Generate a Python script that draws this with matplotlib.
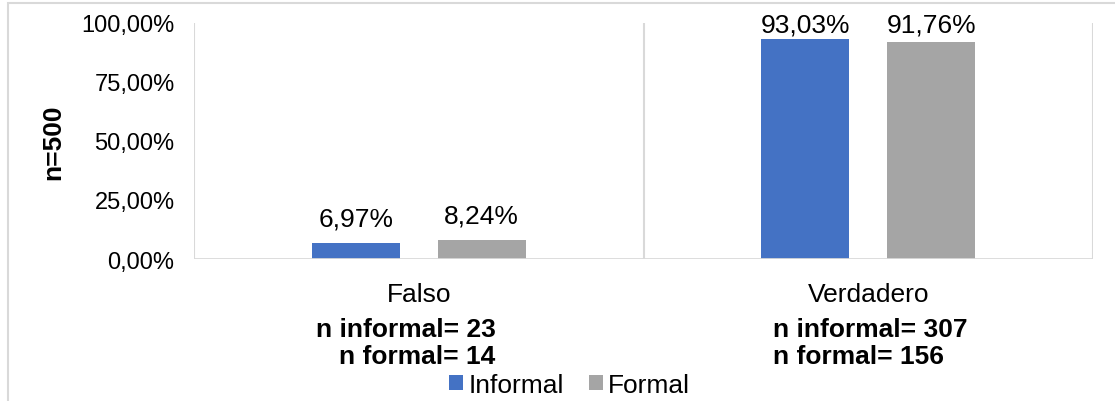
import matplotlib
matplotlib.use("Agg")
import matplotlib.pyplot as plt
import matplotlib.transforms as mtransforms
from matplotlib.patches import Rectangle
import numpy as np

plt.rcParams["font.family"] = ["Liberation Sans", "DejaVu Sans"]

# ── Data ────────────────────────────────────────────────────────────────
categories = ["Falso", "Verdadero"]
series_names = ["Informal", "Formal"]
informal = [6.97, 93.03]
formal = [8.24, 91.76]
n_informal = [23, 307]
n_formal = [14, 156]
yticks = [0, 25, 50, 75, 100]

BLUE = "#4472C4"
GREY = "#A5A5A5"
LINE = "#D9D9D9"

W, H = 1115, 402
fig = plt.figure(figsize=(W / 100, H / 100), dpi=100)
fig.patch.set_facecolor("white")

# chart frame (extends past the right / bottom edges)
fig.add_artist(Rectangle((8 / W, -0.1), 1.2, 1 - 4 / H + 0.1,
                         transform=fig.transFigure, fill=False,
                         edgecolor=LINE, linewidth=1.5))

ax = fig.add_axes([194 / W, 1 - 260 / H, 899 / W, 236 / H])
x = np.arange(len(categories))
bw, off = 0.196, 0.14
ax.bar(x - off, informal, bw, color=BLUE, label=series_names[0])
ax.bar(x + off, formal, bw, color=GREY, label=series_names[1])

ax.set_xlim(-0.5, len(categories) - 0.5)
ax.set_ylim(0, 100)

# category separators as vertical gridlines
for b in np.arange(-0.5, len(categories), 1.0):
    ax.axvline(b, color=LINE, linewidth=1.5, zorder=0)
for sp in ax.spines.values():
    sp.set_visible(False)
ax.axhline(0, color=LINE, linewidth=2, zorder=3)

ax.set_yticks(yticks)
ax.set_yticklabels([f"{v:.2f}%".replace(".", ",") for v in yticks],
                   fontsize=17, color="black")
ax.tick_params(axis="y", length=0, pad=14)
ax.set_xticks([])

# data labels
for xs, vals in ((x - off, informal), (x + off, formal)):
    for xi, v in zip(xs, vals):
        ax.text(xi, min(v + 7.2, 96.6), f"{v:.2f}%".replace(".", ","),
                ha="center", va="baseline", fontsize=19, color="black")

# category labels and counts
tr = mtransforms.blended_transform_factory(ax.transData, fig.transFigure)
for i, cat in enumerate(categories):
    ax.text(i, 1 - 302 / H, cat, transform=tr, ha="center", va="baseline",
            fontsize=19, color="black")
fig_txt = dict(transform=tr, va="baseline", fontsize=19,
               fontweight="bold", color="black")
# Falso block: right-aligned lines
ax.text(0.171, 1 - 337 / H, f"n informal= {n_informal[0]}", ha="right", **fig_txt)
ax.text(0.171, 1 - 364 / H, f"n formal= {n_formal[0]}", ha="right", **fig_txt)
# Verdadero block: left-aligned lines
ax.text(0.787, 1 - 337 / H, f"n informal= {n_informal[1]}", ha="left", **fig_txt)
ax.text(0.787, 1 - 364 / H, f"n formal= {n_formal[1]}", ha="left", **fig_txt)

fig.text(53 / W, 1 - 142 / H, "n=500", rotation=90, ha="center", va="center",
         fontsize=19, fontweight="bold")

fig.legend(loc="center left", bbox_to_anchor=(449 / W, 1 - 386 / H),
           ncol=2, frameon=False, fontsize=19, borderpad=0, borderaxespad=0,
           handlelength=0.53, handleheight=0.53, handletextpad=0.2,
           columnspacing=0.95)

fig.savefig("out.png", dpi=100, facecolor="white")
